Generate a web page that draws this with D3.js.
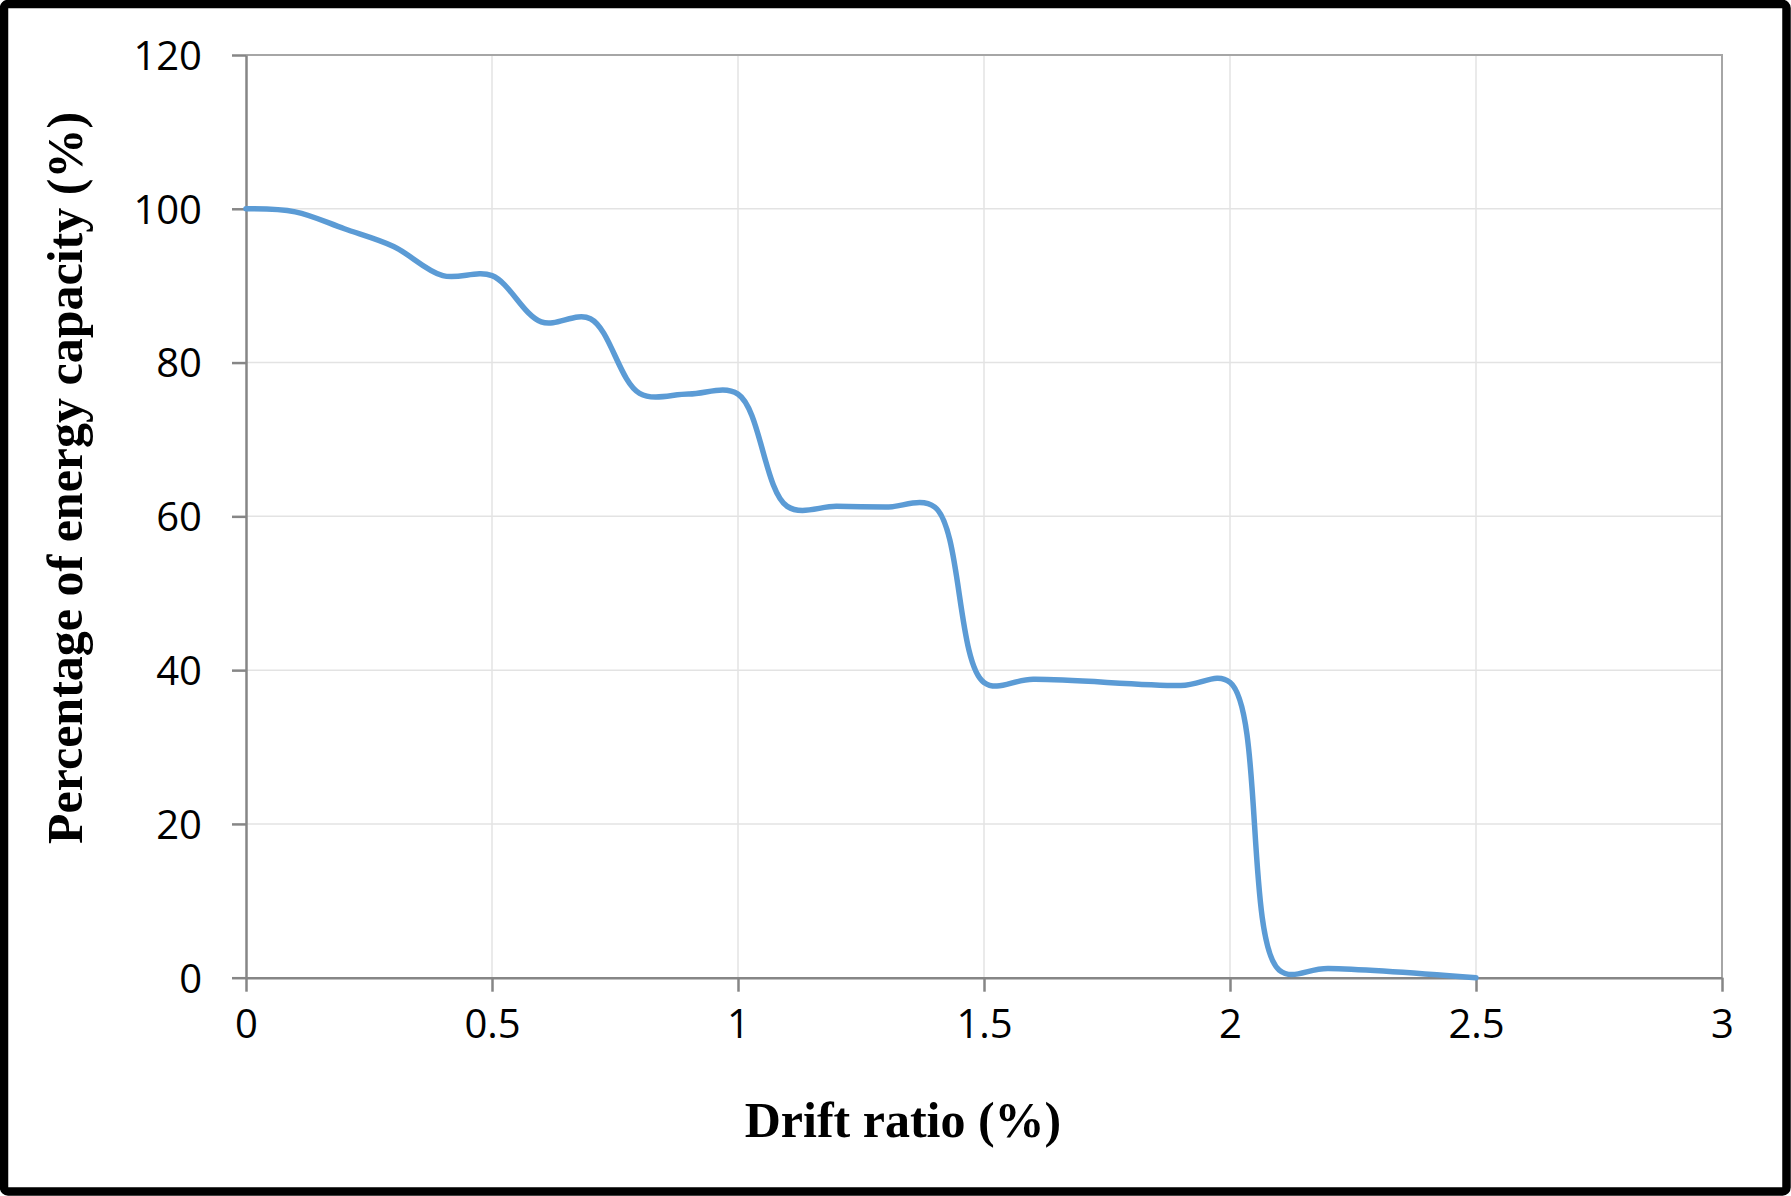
<!DOCTYPE html>
<html>
<head>
<meta charset="utf-8">
<script src="https://cdn.jsdelivr.net/npm/d3@7"></script>
<style>
  body { margin: 0; background: #fff; }
  svg { display: block; }
</style>
</head>
<body>
<svg id="chart"></svg>
<script>
// values
let drift = [0, 0.1, 0.2, 0.3, 0.4, 0.5, 0.6, 0.7, 0.8, 0.9, 1.0, 1.1, 1.2, 1.3, 1.4, 1.5, 1.6, 1.9, 2.0, 2.1, 2.2, 2.5];
let energy = [100, 99.6, 97.4, 95.1, 91.3, 91.3, 85.3, 85.7, 76.0, 75.9, 75.9, 61.3, 61.3, 61.2, 61.2, 38.4, 38.8, 38.0, 38.4, 1.0, 1.2, 0];
let xTicks = [0, 0.5, 1, 1.5, 2, 2.5, 3];
let yTicks = [0, 20, 40, 60, 80, 100, 120];
let xTitle = 'Drift ratio (%)';
let yTitle = 'Percentage of energy capacity (%)';

let width = 1791;
let height = 1196;
let plot = {left: 246, right: 1722, top: 55, bottom: 977.7};

let svg = d3.select('#chart')
    .attr('width', width)
    .attr('height', height)
    .style('background-color', '#fff');

let xScale = d3.scaleLinear()
    .domain([0, 3])
    .range([plot.left, plot.right]);
let yScale = d3.scaleLinear()
    .domain([0, 120])
    .range([plot.bottom, plot.top]);

// gridlines
svg.append('g')
    .selectAll('line')
    .data(yTicks.slice(1, -1))
    .enter()
    .append('line')
    .attr('x1', plot.left).attr('x2', plot.right)
    .attr('y1', d => yScale(d)).attr('y2', d => yScale(d))
    .attr('stroke', '#e3e3e3').attr('stroke-width', 1.5);
svg.append('g')
    .selectAll('line')
    .data(xTicks.slice(1, -1))
    .enter()
    .append('line')
    .attr('x1', d => xScale(d)).attr('x2', d => xScale(d))
    .attr('y1', plot.top).attr('y2', plot.bottom)
    .attr('stroke', '#e3e3e3').attr('stroke-width', 1.5);

// plot area frame (top/right)
svg.append('path')
    .attr('d', `M${plot.left},${plot.top}H${plot.right}V${plot.bottom}`)
    .attr('fill', 'none')
    .attr('stroke', '#a6a6a6')
    .attr('stroke-width', 2);

// axes
let xAxis = d3.axisBottom(xScale)
    .tickValues(xTicks)
    .tickFormat(d3.format('~g'))
    .tickSize(14)
    .tickPadding(18)
    .tickSizeOuter(0);
let yAxis = d3.axisLeft(yScale)
    .tickValues(yTicks)
    .tickFormat(d3.format('d'))
    .tickSize(14)
    .tickPadding(30)
    .tickSizeOuter(0);

let gx = svg.append('g')
    .attr('transform', `translate(0,${plot.bottom})`)
    .call(xAxis);
let gy = svg.append('g')
    .attr('transform', `translate(${plot.left},0)`)
    .call(yAxis);

[gx, gy].forEach(g => {
    g.selectAll('.domain, line').attr('stroke', '#868686').attr('stroke-width', 2.5);
    g.selectAll('text')
        .attr('fill', '#000')
        .style('font-family', '"Open Sans", "Noto Sans", sans-serif')
        .style('font-size', '40px');
});
gy.selectAll('text').attr('dy', '0.36em');

// the curve (smoothed like the spreadsheet line)
let line = d3.line()
    .x((d, i) => xScale(drift[i]))
    .y(d => yScale(d))
    .curve(d3.curveCatmullRom.alpha(0.5));

svg.append('path')
    .datum(energy)
    .attr('d', line)
    .attr('fill', 'none')
    .attr('stroke', '#5b9bd5')
    .attr('stroke-width', 5.5)
    .attr('stroke-linejoin', 'round')
    .attr('stroke-linecap', 'round');

// axis titles
svg.append('text')
    .attr('x', 903)
    .attr('y', 1137)
    .attr('text-anchor', 'middle')
    .style('font-family', '"Liberation Serif", "Times New Roman", serif')
    .style('font-weight', 'bold')
    .style('font-size', '50px')
    .text(xTitle);

svg.append('text')
    .attr('transform', 'translate(82,478) rotate(-90)')
    .attr('text-anchor', 'middle')
    .style('font-family', '"Liberation Serif", "Times New Roman", serif')
    .style('font-weight', 'bold')
    .style('font-size', '50px')
    .text(yTitle);

// outer black frame
svg.append('rect')
    .attr('x', 4).attr('y', 4)
    .attr('width', width - 8.5).attr('height', height - 8.5)
    .attr('rx', 4)
    .attr('fill', 'none')
    .attr('stroke', '#000')
    .attr('stroke-width', 8.5);
</script>
</body>
</html>
